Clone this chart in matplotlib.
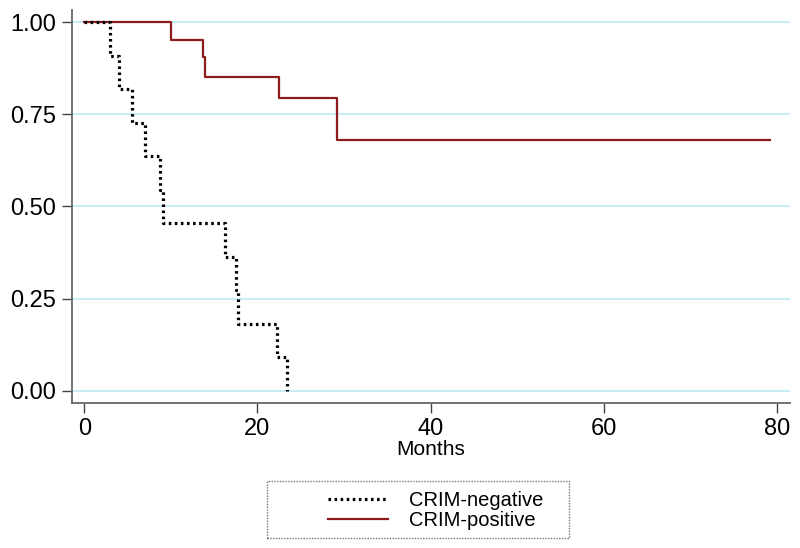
import matplotlib
matplotlib.use("Agg")
import matplotlib.pyplot as plt
from matplotlib.patches import Rectangle

plt.rcParams['font.family'] = ['Liberation Sans', 'DejaVu Sans']

# Kaplan-Meier steps (months, survival)
neg_time = [0, 3.0, 4.0, 5.5, 7.0, 8.7, 9.1, 16.2, 17.5, 17.7, 22.3, 23.4]
neg_surv = [1.0, 0.909, 0.818, 0.727, 0.636, 0.545, 0.455, 0.364, 0.273, 0.182, 0.091, 0.0]
pos_time = [0, 10.0, 13.7, 13.9, 22.5, 29.2, 79.2]
pos_surv = [1.0, 0.952, 0.905, 0.851, 0.795, 0.681, 0.681]

xticks = [0, 20, 40, 60, 80]
yticks = [0.0, 0.25, 0.5, 0.75, 1.0]
ytick_labels = ["0.00", "0.25", "0.50", "0.75", "1.00"]

fig = plt.figure(figsize=(8, 5.48), dpi=100)
ax = fig.add_axes([71.7 / 800, 145 / 548, (790 - 71.7) / 800, (403 - 10) / 548])

for y in yticks:
    ax.axhline(y, color="#c4ecf3", lw=1.3, zorder=0)

red_line, = ax.step(pos_time, pos_surv, where="post", color="#8e1b1b", lw=1.6, zorder=2)
blk_line, = ax.step(neg_time, neg_surv, where="post", color="black", lw=2.3,
                    linestyle=(0, (0.8, 1.1)), zorder=3)

ax.set_xlim(-1.45, 81.5)
ax.set_ylim(-0.033, 1.033)
ax.set_xticks(xticks)
ax.set_yticks(yticks)
ax.set_yticklabels(ytick_labels)
ax.tick_params(axis="both", labelsize=17, length=7, width=1, color="#444444", pad=4)
for s in ["top", "right"]:
    ax.spines[s].set_visible(False)
for s in ["left", "bottom"]:
    ax.spines[s].set_color("#666666")
    ax.spines[s].set_linewidth(1.3)
ax.set_xlabel("Months", fontsize=15, labelpad=0)

# legend box with dotted border
fig.patches.append(Rectangle((267 / 800, 1 - 538 / 548), (569 - 267) / 800, (538 - 481) / 548,
                             transform=fig.transFigure, fill=False, edgecolor="#777777",
                             linestyle=(0, (1, 1)), lw=1))
leg = fig.legend([blk_line, red_line], ["CRIM-negative", "CRIM-positive"],
                 loc="upper left", bbox_to_anchor=(328 / 800, 1 - 491 / 548),
                 frameon=False, fontsize=14.5, handlelength=3.0, handletextpad=1.0,
                 labelspacing=0.05, borderpad=0, borderaxespad=0)

fig.savefig("out.png", dpi=100)
